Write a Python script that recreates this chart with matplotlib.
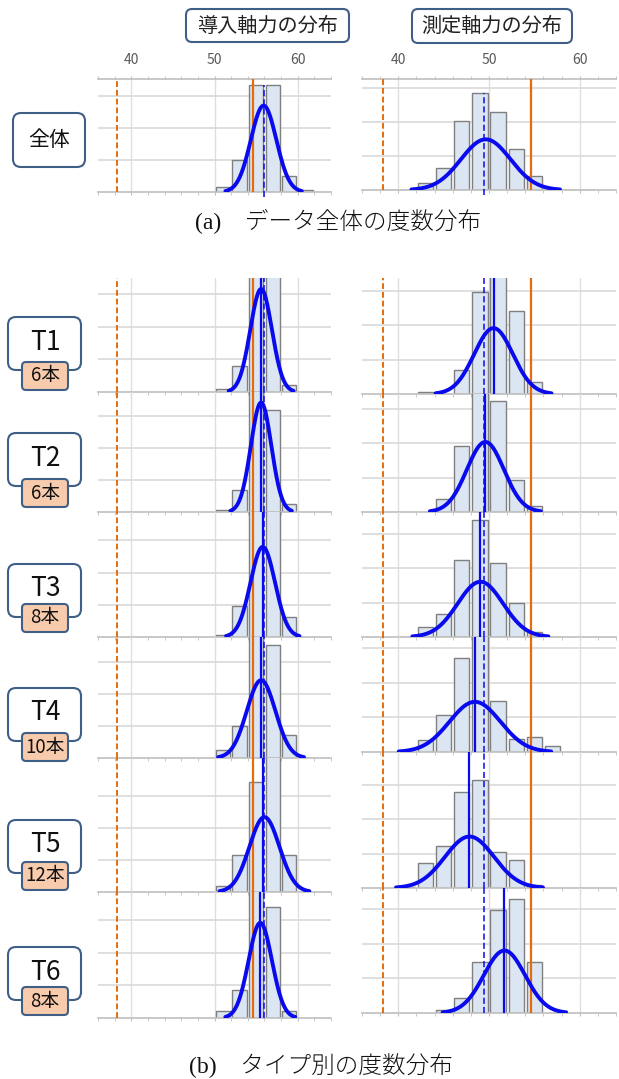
import numpy as np
import matplotlib
matplotlib.use('Agg')
import matplotlib.pyplot as plt
from matplotlib.patches import FancyBboxPatch

plt.rcParams['font.family'] = ['Noto Sans CJK JP', 'DejaVu Sans']

# 階級の中央値 (階級幅 2)
bins = [39, 41, 43, 45, 47, 49, 51, 53, 55, 57, 59, 61]

row_names = ['全体', 'T1', 'T2', 'T3', 'T4', 'T5', 'T6']
row_counts = ['', '6本', '6本', '8本', '10本', '12本', '8本']

# 度数 (横目盛り1本 = 1), None = 棒なし, 9 = 枠の上を超える
dounyu_hist = [
    [None, None, None, None, None, None, 0.15, 1.0, 3.34, 3.34, 0.5, 0.05],
    [None, None, None, None, None, None, 0.1, 0.78, 9, 9, 0.2, None],
    [None, None, None, None, None, None, 0.05, 0.7, 9, 3.19, 0.25, None],
    [None, None, None, None, None, None, 0.05, 0.95, 9, 9, 0.62, None],
    [None, None, None, None, None, None, 0.24, 1.0, 9, 3.54, 0.73, 0.0],
    [None, None, None, None, None, None, 0.18, 1.15, 3.44, 9, 1.15, None],
    [None, None, None, None, None, None, 0.22, 0.86, 9, 3.39, 0.22, None],
]
sokutei_hist = [
    [0.0, 0.0, 0.2, 0.65, 2.03, 2.85, 2.3, 1.2, 0.4, 0.0, 0.0, 0.0],
    [None, None, 0.07, None, 0.7, 2.98, 9, 2.43, 0.36, None, None, None],
    [None, None, None, 0.39, 1.91, 9, 3.22, 0.92, 0.16, None, None, None],
    [None, 0.0, 0.28, 0.67, 2.24, 3.41, 2.17, 1.0, 0.15, 0.0, None, None],
    [0.0, None, 0.34, 1.06, 2.73, 9, 1.47, 0.39, 0.42, 0.16, None, None],
    [None, 0.03, 0.72, 1.23, 2.81, 3.15, 1.04, 0.82, 0.08, None, None, None],
    [None, None, None, 0.1, 0.42, 1.48, 2.97, 3.28, 1.48, None, None, None],
]

# 正規分布曲線 (平均, 標準偏差, 頂点の高さ)
dounyu_mean = [55.9, 55.6, 55.6, 55.8, 55.6, 56.0, 55.5]
dounyu_sd = [1.53, 1.3, 1.23, 1.47, 1.72, 1.8, 1.4]
dounyu_peak = [2.7, 3.15, 3.41, 2.8, 2.43, 2.34, 2.91]
sokutei_mean = [49.64, 50.5, 49.6, 49.05, 48.45, 47.85, 51.7]
sokutei_sd = [2.73, 2.13, 2.04, 2.5, 2.8, 2.7, 2.27]
sokutei_peak = [1.49, 1.92, 2.03, 1.61, 1.45, 1.5, 1.8]

# タイプ別平均 (実線) と全体平均 (破線)
dounyu_type_mean = [None, 55.6, 55.6, 55.8, 55.6, 55.8, 55.5]
sokutei_type_mean = [None, 50.5, 49.56, 49.0, 48.46, 47.8, 51.6]
dounyu_all_mean = 55.9
sokutei_all_mean = 49.5

# オレンジの線 (破線 = 下限, 実線)
lower_limit = 38.3
target_line = 54.6

blue = '#0A0AEE'
orange = '#E46C0A'

W, H = 619, 1079
fig = plt.figure(figsize=(W / 100, H / 100), dpi=100)

# 列: 左端, 右端, 40の位置, 1あたりのピクセル
cols = [(98, 331, 125.5, 8.6), (362, 616, 396.5, 9.26)]
tops = [[79, 278, 392, 512, 637, 758, 892], [79, 278, 394, 512, 637, 752, 888]]
bases = [[192, 392, 512, 637, 758, 892, 1018], [190, 394, 512, 637, 752, 888, 1013]]
steps = [[32, 32.7, 32.1, 32.2, 32, 32, 32.7], [34, 34.3, 34.5, 34.3, 34.6, 34.3, 34.7]]


def panel(c, r, hist, mu, sd, peak, tmean, amean):
    x0, x1, x40, pxu = cols[c]
    top, base, step = tops[c][r], bases[c][r], steps[c][r]
    is_top = (r == 0)
    ax = fig.add_axes([x0 / W, 1 - base / H, (x1 - x0) / W, (base - top) / H])
    ax.set_xlim(40 - (x40 - x0) / pxu, 40 + (x1 - x40) / pxu)
    ymax = (base - top) / step
    ax.set_ylim(0, ymax)
    ax.set_facecolor('none')
    ax.set_axisbelow(True)
    for s in ['left', 'right']:
        ax.spines[s].set_visible(False)
    ax.spines['top'].set_visible(is_top)
    for s in ['top', 'bottom']:
        ax.spines[s].set_color('#BFBFBF')
        ax.spines[s].set_linewidth(1.2)

    ax.set_yticks([1, 2, 3])
    ax.yaxis.grid(True, color='#D9D9D9', lw=1.2)
    ax.tick_params(axis='y', length=0, labelleft=False)
    ax.set_xticks([40, 50, 60])
    ax.set_xticks(np.arange(36, 66, 2), minor=True)
    ax.xaxis.grid(True, which='major', color='#DEDEDE', lw=1.0)
    ax.tick_params(axis='x', which='both', direction='out', length=2.5, color='#BFBFBF',
                   top=is_top, bottom=True, labelbottom=False, labeltop=is_top,
                   labelsize=10, labelcolor='#595959', pad=6.5)

    xs = [b for b, h in zip(bins, hist) if h is not None]
    hs = [h for h in hist if h is not None]
    ax.bar(xs, hs, width=1.7, color='#DCE6F2', edgecolor='#7F7F7F', linewidth=1.0, zorder=2)

    vtop = min(max(hs), ymax) if is_top else ymax
    ax.vlines(lower_limit, 0, ymax, colors=orange, linestyles=(0, (3, 1.5)), lw=1.4, zorder=3)
    ax.vlines(target_line, 0, ymax, colors=orange, lw=1.6, zorder=3)
    if tmean is not None:
        ax.vlines(tmean, 0, ymax, colors=blue, lw=1.6, zorder=4)
    ax.vlines(amean, -0.15 if is_top else 0, vtop, colors=blue, linestyles=(0, (4, 2)),
              lw=1.1, zorder=4, clip_on=not is_top)

    x = np.linspace(mu - 3 * sd, mu + 3 * sd, 200)
    ax.plot(x, peak * np.exp(-0.5 * ((x - mu) / sd) ** 2), color=blue, lw=2.8,
            solid_capstyle='round', zorder=5)
    return ax


for r in range(7):
    panel(0, r, dounyu_hist[r], dounyu_mean[r], dounyu_sd[r], dounyu_peak[r],
          dounyu_type_mean[r], dounyu_all_mean)
    panel(1, r, sokutei_hist[r], sokutei_mean[r], sokutei_sd[r], sokutei_peak[r],
          sokutei_type_mean[r], sokutei_all_mean)

# 見出し・ラベル (ピクセル座標)
ov = fig.add_axes([0, 0, 1, 1], zorder=10)
ov.set_xlim(0, W)
ov.set_ylim(H, 0)
ov.axis('off')
ov.patch.set_alpha(0)

edge = '#3F5F86'


def rbox(x, y, w, h, rad, fc):
    ov.add_patch(FancyBboxPatch((x, y), w, h, boxstyle='round,pad=0,rounding_size=%g' % rad,
                                fc=fc, ec=edge, lw=1.5))


rbox(186, 9, 163, 33, 6, 'white')
ov.text(267.5, 26, '導入軸力の分布', ha='center', va='center', fontsize=14.5, color='#222222')
rbox(412, 9, 160, 34, 6, 'white')
ov.text(492, 26, '測定軸力の分布', ha='center', va='center', fontsize=14.5, color='#222222')

rbox(13, 113, 72, 54, 8, 'white')
ov.text(49, 140, row_names[0], ha='center', va='center', fontsize=15, color='#111111')

box_tops = [317, 433, 564, 688, 820, 947]
sub_tops = [362, 479, 604, 733, 862, 987]
for i in range(6):
    rbox(8, box_tops[i], 73, 53, 8, 'white')
    ov.text(45, box_tops[i] + 25, row_names[i + 1], ha='center', va='center',
            fontsize=19, color='#111111')
    rbox(22, sub_tops[i], 46, 28, 4, '#F8CBAD')
    ov.text(45, sub_tops[i] + 14, row_counts[i + 1], ha='center', va='center',
            fontsize=13.5, color='#111111')

cap_font = ['Liberation Serif', 'Noto Sans CJK JP']
ov.text(338, 221, '(a)　データ全体の度数分布', ha='center', va='center', fontsize=17,
        family=cap_font, weight='light', color='#111111')
ov.text(321, 1066, '(b)　タイプ別の度数分布', ha='center', va='center', fontsize=17,
        family=cap_font, weight='light', color='#111111')

fig.savefig('out.png', dpi=100)
